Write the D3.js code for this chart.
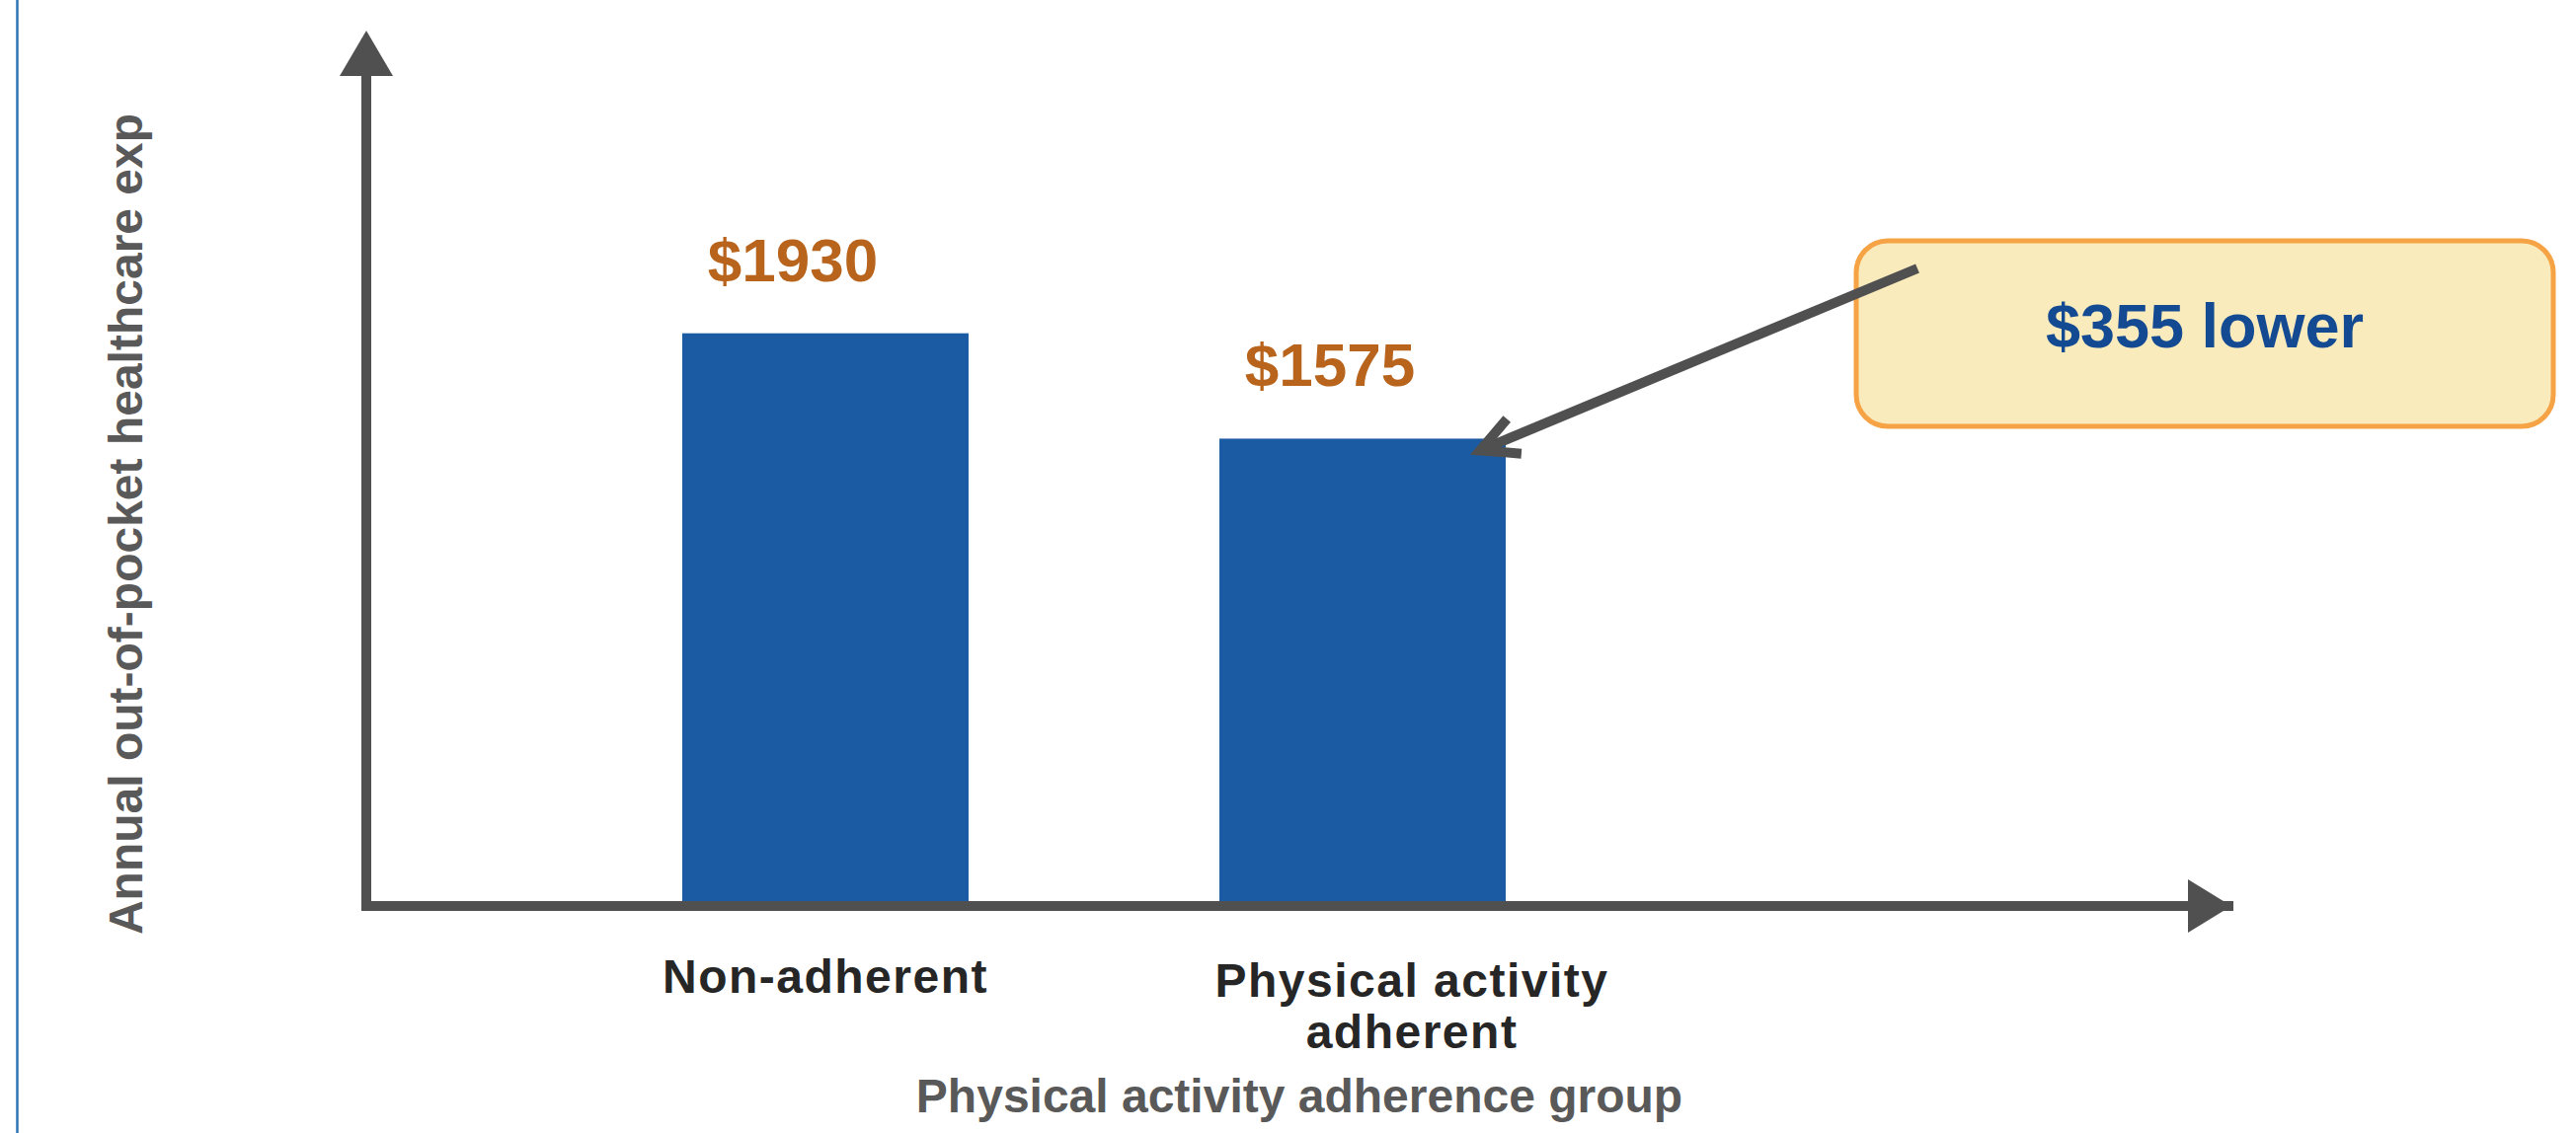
<html>
<head>
<style>
body { margin: 0; background: #fff; }
text { font-family: "Liberation Sans", Arial, sans-serif; font-weight: bold; }
.value { fill: #b8641c; font-size: 62px; }
.cat { fill: #262626; font-size: 48px; letter-spacing: 1.5px; }
.title { fill: #595959; font-size: 48px; }
.callout { fill: #134a92; font-size: 63px; }
</style>
<script src="https://d3js.org/d3.v7.min.js"></script>
</head>
<body>
<script>
// data
var categories = ["Non-adherent", "Physical activity adherent"];
var categoryLines = [["Non-adherent"], ["Physical activity", "adherent"]];
var values = [1930, 1575];
var valueLabels = ["$1930", "$1575"];
var xTitle = "Physical activity adherence group";
var yTitle = "Annual out-of-pocket healthcare exp";

var width = 2609, height = 1148;
var axisColor = "#505050";

var svg = d3.select("body").append("svg")
	.attr("width", width)
	.attr("height", height);

// thin blue frame line at the left edge
svg.append("line")
	.attr("x1", 17.5).attr("x2", 17.5)
	.attr("y1", 0).attr("y2", height)
	.attr("stroke", "#2e74b5")
	.attr("stroke-width", 2.5);

var x = d3.scaleBand()
	.domain(categories)
	.range([691, 1525])
	.paddingInner(0.467)
	.paddingOuter(0);

var y = d3.scaleLinear()
	.domain([0, 2950])
	.range([918, 31]);

var axisX = 371;

// bars
svg.selectAll("rect.bar")
	.data(values)
  .enter().append("rect")
	.attr("class", "bar")
	.attr("x", function(d, i) { return x(categories[i]); })
	.attr("width", x.bandwidth())
	.attr("y", function(d) { return y(d); })
	.attr("height", function(d) { return y(0) - y(d); })
	.attr("fill", "#1a5ba4");

// axes: plain lines with triangle heads
svg.append("line")
	.attr("x1", axisX).attr("x2", axisX)
	.attr("y1", y(0) + 5).attr("y2", y.range()[1] + 8)
	.attr("stroke", axisColor).attr("stroke-width", 10);
svg.append("path")
	.attr("d", "M" + (axisX - 27) + "," + 77 + "L" + axisX + "," + y.range()[1] + "L" + (axisX + 27) + "," + 77 + "Z")
	.attr("fill", axisColor);

var xEnd = 2262;
svg.append("line")
	.attr("x1", axisX - 5).attr("x2", xEnd)
	.attr("y1", y(0)).attr("y2", y(0))
	.attr("stroke", axisColor).attr("stroke-width", 10);
svg.append("path")
	.attr("d", "M2216," + (y(0) - 27) + "L" + (xEnd - 2) + "," + y(0) + "L2216," + (y(0) + 27) + "Z")
	.attr("fill", axisColor);

// value labels above the bars
svg.selectAll("text.value")
	.data(values)
  .enter().append("text")
	.attr("class", "value")
	.attr("text-anchor", "middle")
	.attr("x", function(d, i) { return x(categories[i]) + x.bandwidth() / 2 - 33; })
	.attr("y", function(d) { return y(d) - 53; })
	.text(function(d, i) { return valueLabels[i]; });

// category labels (second one sits a little right of its bar, as in the original)
var catNudge = [0, 50];
var catBase = [1006, 1010];
categoryLines.forEach(function(lines, i) {
	var t = svg.append("text")
		.attr("class", "cat")
		.attr("text-anchor", "middle")
		.attr("x", x(categories[i]) + x.bandwidth() / 2 + catNudge[i])
		.attr("y", catBase[i]);
	lines.forEach(function(l, j) {
		t.append("tspan")
			.attr("x", x(categories[i]) + x.bandwidth() / 2 + catNudge[i])
			.attr("dy", j == 0 ? 0 : 52)
			.text(l);
	});
});

// axis titles
svg.append("text")
	.attr("class", "title")
	.attr("text-anchor", "middle")
	.attr("x", 1316)
	.attr("y", 1127)
	.text(xTitle);

svg.append("text")
	.attr("class", "title")
	.attr("text-anchor", "middle")
	.attr("transform", "translate(144,531) rotate(-90)")
	.text(yTitle);

// callout box
svg.append("rect")
	.attr("x", 1880).attr("y", 244)
	.attr("width", 706).attr("height", 188)
	.attr("rx", 32).attr("ry", 32)
	.attr("fill", "#faebbd")
	.attr("stroke", "#f5a344")
	.attr("stroke-width", 5);

svg.append("text")
	.attr("class", "callout")
	.attr("text-anchor", "middle")
	.attr("x", 2233)
	.attr("y", 352)
	.text("$" + (values[0] - values[1]) + " lower");

// arrow from the box to the second bar
var start = [1942, 272];
var tip = [x(categories[1]) + x.bandwidth() - 26, y(values[1]) + 12];
var ang = Math.atan2(start[1] - tip[1], start[0] - tip[0]);
var barb = 42, spread = 27 * Math.PI / 180;
svg.append("line")
	.attr("x1", start[0]).attr("y1", start[1])
	.attr("x2", tip[0] + 6 * Math.cos(ang)).attr("y2", tip[1] + 6 * Math.sin(ang))
	.attr("stroke", axisColor).attr("stroke-width", 10);
svg.append("path")
	.attr("d", "M" + (tip[0] + barb * Math.cos(ang - spread)) + "," + (tip[1] + barb * Math.sin(ang - spread)) +
		"L" + tip[0] + "," + tip[1] +
		"L" + (tip[0] + barb * Math.cos(ang + spread)) + "," + (tip[1] + barb * Math.sin(ang + spread)))
	.attr("fill", "none")
	.attr("stroke", axisColor)
	.attr("stroke-width", 10)
	.attr("stroke-linejoin", "miter");
</script>
</body>
</html>
